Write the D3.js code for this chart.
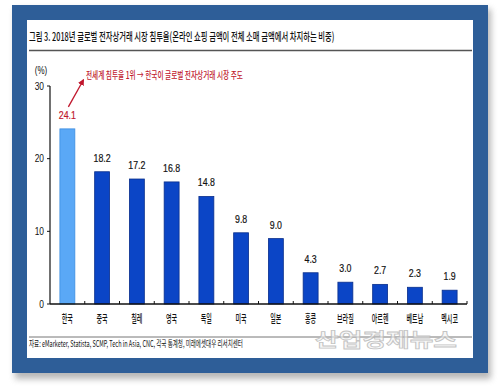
<!DOCTYPE html>
<html>
<head>
<meta charset="utf-8">
<script src="https://cdn.jsdelivr.net/npm/d3@7"></script>
<style>
  html, body { margin: 0; padding: 0; background: #fff; }
  svg { display: block; }
</style>
</head>
<body>
<figure style="margin:0"></figure>
<script>
// chart data
const categories = ["한국", "중국", "칠레", "영국", "독일", "미국", "일본", "홍콩", "브라질", "아르헨", "베트남", "멕시코"];
const values = [24.1, 18.2, 17.2, 16.8, 14.8, 9.8, 9.0, 4.3, 3.0, 2.7, 2.3, 1.9];
const yTicks = [0, 10, 20, 30];
const highlight = "한국";

const titleText = "그림 3. 2018년 글로벌 전자상거래 시장 침투율(온라인 쇼핑 금액이 전체 소매 금액에서 차지하는 비중)";
const noteText = "전세계 침투율 1위 → 한국이 글로벌 전자상거래 시장 주도";
const sourceText = "자료: eMarketer, Statista, SCMP, Tech in Asia, CNC, 각국 통계청, 미래에셋대우 리서치센터";

const width = 500, height = 392;
const font = "'Noto Sans CJK KR', 'Liberation Sans Narrow', sans-serif";
const numFont = "'Liberation Sans Narrow', 'Liberation Sans', sans-serif";

const svg = d3.select("figure").append("svg")
  .attr("width", width)
  .attr("height", height);

const defs = svg.append("defs");
const blur = defs.append("filter").attr("id", "shadow")
  .attr("x", "-5%").attr("y", "-5%").attr("width", "115%").attr("height", "115%");
blur.append("feGaussianBlur").attr("stdDeviation", 3);
defs.append("marker")
  .attr("id", "arrow")
  .attr("viewBox", "0 0 10 10")
  .attr("refX", 8).attr("refY", 5)
  .attr("markerWidth", 5).attr("markerHeight", 5)
  .attr("orient", "auto")
  .append("path")
  .attr("d", "M0,0 L10,5 L0,10 z")
  .attr("fill", "#c0172d");

// frame with shadow
svg.append("rect")
  .attr("x", 15).attr("y", 9).attr("width", 476).attr("height", 370)
  .attr("fill", "#888").attr("opacity", 0.6)
  .attr("filter", "url(#shadow)");
svg.append("rect")
  .attr("x", 12).attr("y", 5).attr("width", 476).attr("height", 368)
  .attr("fill", "#2e5e98");
svg.append("rect")
  .attr("x", 27).attr("y", 20).attr("width", 446).attr("height", 338)
  .attr("fill", "#fff");

// squeezed text helper
function label(g, x, y, txt, opts) {
  const t = g.append("text")
    .attr("transform", `translate(${x},${y}) scale(${opts.sx || 1},1)`)
    .attr("text-anchor", opts.anchor || "middle")
    .style("font-family", opts.font || font)
    .style("font-size", (opts.size || 10) + "px")
    .style("font-weight", opts.weight || "normal")
    .style("fill", opts.fill || "#111")
    .text(txt);
  return t;
}

// text squeezed to a given width (left aligned)
function fitted(g, x, y, txt, w, opts) {
  const t = label(g, 0, 0, txt, Object.assign({ anchor: "start" }, opts));
  const natural = t.node().getComputedTextLength();
  t.attr("transform", `translate(${x},${y}) scale(${w / natural},1)`);
  return t;
}

// title
fitted(svg, 29, 41, titleText, 306, { size: 11.5, weight: 500 });
svg.append("line")
  .attr("x1", 29).attr("x2", 472).attr("y1", 50.5).attr("y2", 50.5)
  .attr("stroke", "#555").attr("stroke-width", 1.5);

// scales
const x = d3.scaleBand()
  .domain(categories)
  .range([50, 467])
  .paddingInner(0.57)
  .paddingOuter(0.285);

const y = d3.scaleLinear()
  .domain([0, 30])
  .range([304, 86]);

const g = svg.append("g");

// bars
g.selectAll(".bar")
  .data(categories)
  .enter()
  .append("rect")
  .attr("x", d => x(d))
  .attr("y", (d, i) => y(values[i]))
  .attr("width", x.bandwidth())
  .attr("height", (d, i) => y(0) - y(values[i]))
  .attr("fill", d => d === highlight ? "#5aa8f6" : "#0b45c6")
  .attr("stroke", d => d === highlight ? "#3d8ee0" : "#0a2f8c")
  .attr("stroke-width", 0.8);

// y axis
g.append("line")
  .attr("x1", 50).attr("x2", 50)
  .attr("y1", y(0)).attr("y2", y(30))
  .attr("stroke", "#111").attr("stroke-width", 1.2);
yTicks.forEach(t => {
  g.append("line")
    .attr("x1", 47).attr("x2", 50)
    .attr("y1", y(t)).attr("y2", y(t))
    .attr("stroke", "#111");
  label(g, 44, y(t) + 3.5, t, { anchor: "end", font: numFont, size: 10.5, sx: 0.8 });
});
label(g, 41, 74, "(%)", { font: numFont, size: 10, sx: 0.8 });

// x axis
g.append("line")
  .attr("x1", 50).attr("x2", 467)
  .attr("y1", y(0)).attr("y2", y(0))
  .attr("stroke", "#111").attr("stroke-width", 1.5);
categories.forEach((c, i) => {
  const bx = x.range()[0] + (i + 1) * x.step();
  g.append("line")
    .attr("x1", bx).attr("x2", bx)
    .attr("y1", y(0)).attr("y2", y(0) - 3)
    .attr("stroke", "#111");
});

// category labels
categories.forEach(c => {
  label(g, x(c) + x.bandwidth() / 2, 323, c, { size: 11, sx: 0.55, weight: 500 });
});

// value labels
categories.forEach((c, i) => {
  label(g, x(c) + x.bandwidth() / 2, y(values[i]) - 10, values[i].toFixed(1), {
    font: numFont, size: 11, sx: 0.8,
    fill: c === highlight ? "#c0172d" : "#111"
  }).style("stroke", c === highlight ? "#c0172d" : "#111").style("stroke-width", 0.2);
});

// annotation
const hx = x(highlight) + x.bandwidth() / 2;
g.append("line")
  .attr("x1", hx + 1).attr("y1", y(24.1) - 22)
  .attr("x2", hx + 16).attr("y2", 80)
  .attr("stroke", "#c0172d").attr("stroke-width", 1.3)
  .attr("marker-end", "url(#arrow)");
fitted(svg, 86, 79, noteText, 157, { size: 10, weight: 500, fill: "#c0172d" });

// source
svg.append("line")
  .attr("x1", 29).attr("x2", 472).attr("y1", 337).attr("y2", 337)
  .attr("stroke", "#777").attr("stroke-width", 1);
fitted(svg, 29, 347, sourceText, 214, { size: 9 });

// watermark
fitted(svg, 315, 347, "산업경제뉴스", 142, { size: 19, weight: "bold" })
  .style("fill", "#f2f2f2")
  .style("fill-opacity", 0.6)
  .style("stroke", "#b5b5b5")
  .style("stroke-width", 0.8)
  .style("stroke-opacity", 0.8);
</script>
</body>
</html>
